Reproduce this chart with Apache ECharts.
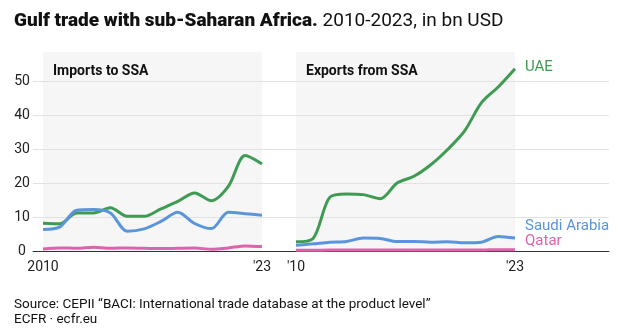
<!DOCTYPE html>
<html><head><meta charset="utf-8">
<script src="https://cdn.jsdelivr.net/npm/echarts@6/dist/echarts.min.js"></script>
<style>html,body{margin:0;padding:0;background:#fff}#c{width:618px;height:331px}</style>
</head><body><div id="c"></div>
<script>
const years = [2010,2011,2012,2013,2014,2015,2016,2017,2018,2019,2020,2021,2022,2023];
const importsUAE   = [8.2, 8.0, 11.2, 11.2, 12.7, 10.2, 10.2, 12.4, 14.6, 17.1, 14.8, 19.0, 28.1, 25.6];
const importsSaudi = [6.3, 7.1, 12.0, 12.2, 11.2, 5.8, 6.5, 8.7, 11.4, 8.1, 6.6, 11.4, 11.0, 10.5];
const importsQatar = [0.6, 0.9, 0.8, 1.1, 0.8, 0.9, 0.8, 0.7, 0.8, 0.9, 0.5, 0.9, 1.5, 1.3];
const exportsUAE   = [2.7, 3.6, 15.8, 16.8, 16.6, 15.4, 20.0, 22.0, 25.4, 29.9, 35.3, 43.6, 48.3, 53.7];
const exportsSaudi = [1.7, 2.1, 2.6, 2.8, 3.8, 3.7, 2.8, 2.8, 2.6, 2.7, 2.4, 2.6, 4.3, 3.8];
const exportsQatar = [0.2, 0.2, 0.3, 0.3, 0.3, 0.3, 0.3, 0.3, 0.3, 0.3, 0.3, 0.3, 0.4, 0.4];
const yTicks = [0, 10, 20, 30, 40, 50];
const seriesNames = ['UAE', 'Saudi Arabia', 'Qatar'];

const FONT = 'Roboto';
const colors = {'UAE': '#3f9b52', 'Saudi Arabia': '#5a95dc', 'Qatar': '#de63ad'};
const YMAX = 58.6;
const TOP = 52, H = 199;

function pairs(vals){ return years.map((y,i)=>[y, vals[i]]); }
function lineSeries(name, vals, idx){
  return {type:'line', name, xAxisIndex: idx, yAxisIndex: idx, data: pairs(vals),
    smooth: 0.3, showSymbol:false, symbol:'none', clip:false,
    lineStyle:{color: colors[name], width:3}, itemStyle:{color: colors[name]}, animation:false};
}
function xAx(idx, first){
  return {type:'value', gridIndex: idx, min: years[0], max: years[years.length-1], interval: years[years.length-1]-years[0],
    axisLine:{show:false}, axisTick:{show:false}, splitLine:{show:false},
    axisLabel:{margin:9, fontFamily:FONT, fontSize:14, color:'#222',
      formatter: v => v === years[0] ? first : "'" + String(years[years.length-1]).slice(2)}};
}
function yAxHidden(idx){
  return {type:'value', gridIndex: idx, min:0, max:YMAX, show:false};
}

const chart = echarts.init(document.getElementById('c'), null, {renderer:'canvas'});
chart.setOption({
  animation:false,
  title:[
    {text:'Gulf trade with sub-Saharan Africa. {n|2010-2023, in bn USD}', left:9, top:7,
      textStyle:{fontFamily:FONT, fontWeight:900, fontSize:19, color:'#111',
        rich:{n:{fontFamily:FONT, fontWeight:'normal', fontSize:19, color:'#111'}}}},
    {text:'Imports to SSA', left:48, top:59, textStyle:{fontFamily:FONT, fontWeight:'bold', fontSize:14, color:'#111'}},
    {text:'Exports from SSA', left:301, top:59, textStyle:{fontFamily:FONT, fontWeight:'bold', fontSize:14, color:'#111'}},
    {text:'Source: CEPII \u201cBACI: International trade database at the product level\u201d\nECFR \u00b7 ecfr.eu', left:9, top:292,
      textStyle:{fontFamily:FONT, fontWeight:'normal', fontSize:13.5, lineHeight:15, color:'#111'}}
  ],
  grid:[
    {left:33, right:9, top:TOP, height:H, show:false},
    {left:43, width:219, top:TOP, height:H, show:true, backgroundColor:'#f6f6f6', borderWidth:0},
    {left:296, width:219, top:TOP, height:H, show:true, backgroundColor:'#f6f6f6', borderWidth:0}
  ],
  xAxis:[
    {type:'value', gridIndex:0, min:0, max:1, axisLine:{show:true, onZero:true, lineStyle:{color:'#333', width:1}},
      axisTick:{show:false}, axisLabel:{show:false}, splitLine:{show:false}},
    xAx(1, String(years[0])),
    xAx(2, "'" + String(years[0]).slice(2))
  ],
  yAxis:[
    {type:'value', gridIndex:0, min:0, max:YMAX, interval:10,
      axisLine:{show:false}, axisTick:{show:false},
      axisLabel:{showMaxLabel:false, margin:11, align:'center', fontFamily:FONT, fontSize:14, color:'#222',
        formatter: v => yTicks.includes(v) ? String(v) : ''},
      splitLine:{show:true, lineStyle:{color: yTicks.map(()=>'#e2e2e2').concat(['rgba(0,0,0,0)']), width:1}}},
    yAxHidden(1), yAxHidden(2)
  ],
  series:[
    lineSeries('UAE', importsUAE, 1),
    lineSeries('Saudi Arabia', importsSaudi, 1),
    lineSeries('Qatar', importsQatar, 1),
    lineSeries('UAE', exportsUAE, 2),
    lineSeries('Saudi Arabia', exportsSaudi, 2),
    lineSeries('Qatar', exportsQatar, 2)
  ]
});

// End labels for the right panel, placed from the data's last points
const lastYear = years[years.length-1];
const lastVals = {'UAE': exportsUAE[exportsUAE.length-1], 'Saudi Arabia': exportsSaudi[exportsSaudi.length-1], 'Qatar': exportsQatar[exportsQatar.length-1]};
const dy = {'UAE': -1, 'Saudi Arabia': -12, 'Qatar': -8};
const graphics = seriesNames.map(n => {
  const p = chart.convertToPixel({gridIndex:2}, [lastYear, lastVals[n]]);
  return {type:'text', x: p[0] + 10, y: p[1] + dy[n],
    style:{text:n, fill: colors[n], font: '15px ' + FONT, textVerticalAlign:'middle', textAlign:'left'}};
});
chart.setOption({graphic: graphics});
</script>
</body></html>
